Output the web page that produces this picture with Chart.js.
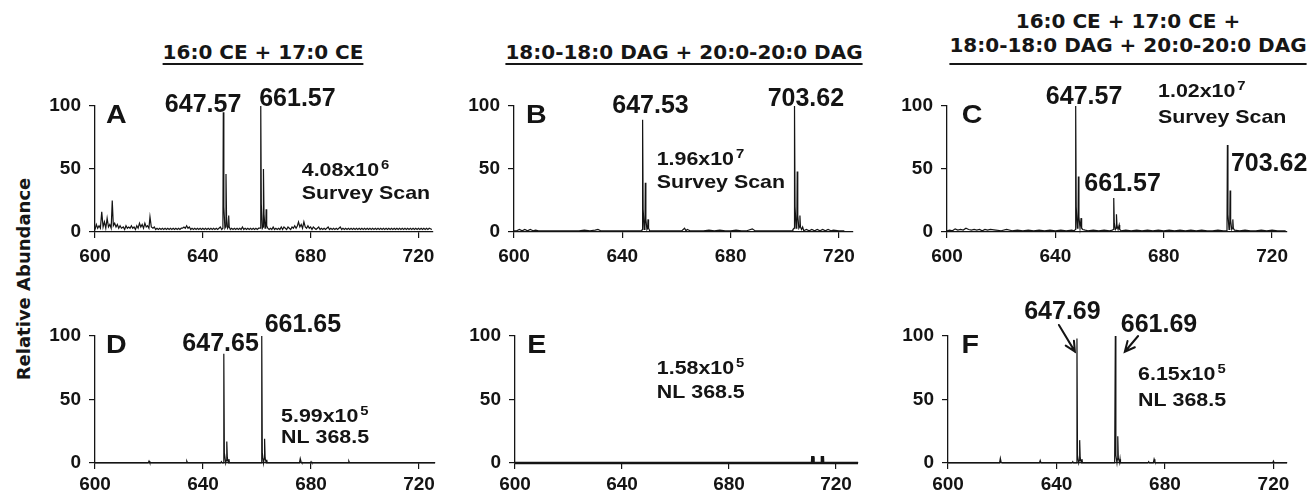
<!DOCTYPE html>
<html>
<head>
<meta charset="utf-8">
<script src="https://cdn.jsdelivr.net/npm/chart.js@4.4.1/dist/chart.umd.min.js"></script>
<style>
  html, body { margin: 0; padding: 0; background: #fff; overflow: hidden; }
  #stage { position: relative; width: 1309px; height: 494px; overflow: hidden; }
  canvas { position: absolute; }
  .title {
    position: absolute; width: 420px; text-align: center; color: #161616;
    font: 700 20px "DejaVu Sans", sans-serif; line-height: 24px; white-space: nowrap;
  }
  .title u { text-decoration-thickness: 1.5px; text-underline-offset: 4px; }
  #ylabel {
    position: absolute; left: 23px; top: 279px; color: #161616; white-space: nowrap;
    font: 700 18px "DejaVu Sans", sans-serif;
    transform: translate(-50%, -50%) rotate(-90deg);
  }
</style>
</head>
<body>
<div id="stage">
  <div class="title" style="left:53px; top:16px;"><br><u>16:0 CE + 17:0 CE</u></div>
  <div class="title" style="left:474px; top:16px;"><br><u>18:0-18:0 DAG + 20:0-20:0 DAG</u></div>
  <div class="title" style="left:918px; top:9px;">16:0 CE + 17:0 CE +<br><u style="text-underline-offset:11px">18:0-18:0 DAG + 20:0-20:0 DAG</u></div>
  <div id="ylabel">Relative Abundance</div>
</div>
<script>
// axis ticks
const xTicks = [600, 640, 680, 720];
const yTicks = [0, 50, 100];

// spectra: [m/z, relative abundance %]
const spectrumA = [
  [600,2],[600.5,6],[601,3],[601.5,5],[602,3],[602.5,16],[603,4],[603.5,8],[604,3],[604.5,11],
  [605,4],[605.5,6],[606,3],[606.4,25],[606.8,5],[607.3,7],[607.8,4],[608.3,6],[608.8,3],[609.3,5],
  [609.8,3],[610.5,4],[611,2],[611.5,5],[612,3],[612.5,4],[613,3],[613.5,5],[614,3],[614.5,4],
  [615,2],[615.5,5],[616,3],[616.5,7],[617,4],[617.5,6],[618,3],[618.5,7],[619,4],[619.5,5],
  [620,3],[620.4,12],[620.9,4],[621.5,3],[622,4],[622.5,2],[623,3],[623.5,2],[624,3],[624.5,2],
  [625,3],[625.5,2],[626,3],[626.5,2],[627,3],[627.5,2],[628,3],[628.5,2],[629,3],[629.5,2],
  [630,3],[630.5,2],[631,3],[631.5,2],[632,3],[632.5,3],[633,4],[633.5,3],[634,5],[634.5,3],
  [635,4],[635.5,2],[636,3],[636.5,2],[637,3],[637.5,2],[638,3],[638.5,2],[639,3],[639.5,2],
  [640,3],[640.5,2],[641,3],[641.5,2],[642,3],[642.5,2],[643,3],[643.5,2],[644,3],[644.5,2],
  [645,3],[645.5,2],[646,3],[646.5,4],[647,2],[647.45,3],[647.6,95],[647.8,20],[648.2,3],[648.45,4],
  [648.6,46],[648.8,12],[649.2,3],[649.45,4],[649.6,13],[649.8,4],[650.2,2],[650.7,3],[651.2,2],[651.7,3],
  [652.2,2],[652.7,3],[653.2,2],[653.7,3],[654.2,2],[654.7,4],[655.2,2],[655.7,3],[656.2,2],[656.7,3],
  [657.2,2],[657.7,3],[658.2,2],[658.7,3],[659.2,2],[659.7,3],[660.2,2],[660.7,3],[661.35,3],[661.5,100],
  [661.7,22],[662.1,3],[662.35,4],[662.5,50],[662.7,14],[663.1,3],[663.35,4],[663.5,18],[663.7,5],[664.1,3],
  [664.6,2],[665.1,3],[665.6,2],[666.1,4],[666.6,2],[667.1,3],[667.6,2],[668.1,3],[668.6,2],[669.1,4],
  [669.6,2],[670.1,4],[670.6,3],[671.1,2],[671.6,4],[672.1,3],[672.6,2],[673.1,4],[673.6,3],[674.1,5],
  [674.6,3],[675.1,5],[675.5,8],[676,4],[676.5,6],[677,3],[677.5,8],[678,4],[678.5,3],[679,5],
  [679.5,3],[680,4],[680.5,2],[681,4],[681.5,3],[682,2],[682.5,3],[683,4],[683.5,2],[684,3],
  [684.5,2],[685,3],[685.5,2],[686,3],[686.5,4],[687,2],[687.5,3],[688,2],[688.5,3],[689,2],
  [689.5,3],[690,2],[690.5,3],[691,4],[691.5,2],[692,3],[692.5,2],[693,3],[693.5,2],[694,3],
  [694.5,2],[695,3],[695.5,2],[696,3],[696.5,2],[697,3],[697.5,2],[698,3],[698.5,2],[699,3],
  [699.5,2],[700,3],[700.5,2],[701,3],[701.5,2],[702,3],[702.5,2],[703,3],[703.5,2],[704,3],
  [704.5,2],[705,3],[705.5,2],[706,3],[706.5,2],[707,3],[707.5,2],[708,3],[708.5,2],[709,3],
  [709.5,2],[710,3],[710.5,2],[711,3],[711.5,2],[712,3],[712.5,2],[713,3],[713.5,2],[714,3],
  [714.5,2],[715,3],[715.5,2],[716,3],[716.5,2],[717,3],[717.5,2],[718,3],[718.5,2],[719,3],
  [719.5,2],[720,3],[720.5,2],[721,3],[721.5,2],[722,3],[722.5,2],[723,3],[723.5,2],[724,3],[725,2]
];

const spectrumB = [
  [600,1],[601,1],[602,2],[603,1],[604,2],[605,1],[606,2],[607,1],[608,1.5],[609,1],
  [610,1],[612,1],[614,1],[616,1],[618,1],[620,1],[622,1],[624,1],[626,1.5],[628,1],
  [630,1.5],[631,2],[632,1],[634,1],[636,1],[638,1],[640,1],[642,1],[644,1],[646,1],
  [647.2,1],[647.35,2],[647.5,89],[647.7,18],[648.1,2],[648.35,3],[648.5,39],[648.7,10],[649.1,2],[649.35,3],
  [649.5,10],[649.7,3],[650.1,1],[652,1],[654,1],[656,1],[658,1],[660,1],[662,1],[663,3],
  [663.5,1],[664,2],[665,1],[666,1],[668,1],[670,1],[672,1.5],[674,1],[676,1.5],[678,1],
  [680,1],[682,1.5],[684,1],[686,1],[688,2.5],[689,1],[690,1],[692,1],[694,1],[696,1],
  [698,1],[700,1],[702,1],[702.8,1],[703,2],[703.45,3],[703.6,100],[703.8,20],[704.2,3],[704.45,4],
  [704.6,48],[704.8,13],[705.2,3],[705.45,4],[705.6,13],[705.8,4],[706.2,2],[706.6,4],[707,1],[708,2],
  [709,1],[710,2],[711,1],[712,2],[713,1],[714,2],[715,1],[716,2],[717,1],[718,1.5],[720,1],[722,1]
];

const spectrumC = [
  [600,1],[601,1.5],[602,1],[603,2.5],[604,1.5],[605,2],[606,1.5],[607,3],[608,2],[609,1.5],
  [610,2],[611,1.5],[612,2],[613,1],[614,2],[615,1.5],[616,2],[618,1.5],[620,1],[622,2],
  [624,1],[626,1.5],[628,1],[630,1.5],[632,1],[634,1.5],[636,1],[638,1.5],[640,1],[642,1.5],
  [644,1],[646,1.5],[647,1],[647.35,2],[647.5,100],[647.7,20],[648.1,3],[648.35,4],[648.5,44],[648.7,12],
  [649.1,3],[649.35,3],[649.5,11],[649.7,3],[650.1,2],[651,1.5],[652,1],[654,1.5],[656,1],[658,1.5],
  [660,1],[661,1.5],[661.4,2],[661.55,27],[661.75,7],[662.15,2],[662.4,3],[662.55,14],[662.75,5],[663.15,2],
  [663.4,2],[663.55,5.5],[663.75,2],[664.2,1],[666,1.5],[668,1],[670,1.5],[672,1],[674,1.5],[676,1],
  [678,1.5],[680,1],[682,1.5],[684,1],[686,1.5],[688,1],[690,1.5],[692,1],[694,1.5],[696,1],
  [698,1],[700,1.5],[702,1],[703,1],[703.35,2],[703.5,69],[703.7,14],[704.1,2],[704.35,3],[704.5,33],
  [704.7,9],[705.1,2],[705.35,3],[705.5,10],[705.7,3],[706.1,1.5],[708,1],[710,1.5],[712,1],[714,1],
  [716,1.5],[718,1],[720,1.5],[722,1],[724,1],[725,1]
];

const spectrumD = [
  [600,0],[619.7,0],[620,1.5],[620.3,0],[633.7,0],[634,1.5],[634.3,0],[646.5,0],[646.8,1],[647.1,0],
  [647.5,0],[647.7,86],[647.9,8],[648.4,0],[648.6,2],[648.8,17],[649,4],[649.4,0],[649.6,3],[649.8,0],
  [661.5,0],[661.75,100],[661.95,8],[662.4,0],[662.6,3],[662.8,19],[663,4],[663.4,0],[663.6,2.5],[663.8,0],
  [675.7,0],[676,3.5],[676.3,1],[676.6,0],[679.7,0],[680,1],[680.3,0],[693.7,0],[694,1.5],[694.3,0],
  [725.9,0]
];

const spectrumE = [
  [600,0],[711,0],[711.1,4.5],[711.5,4.5],[711.6,0],[714.6,0],[714.7,4.5],[715.1,4.5],[715.2,0],[728.2,0]
];

const spectrumF = [
  [600,0],[619,0],[619.3,3.7],[619.6,0.5],[620,0],[633.7,0],[634,2],[634.3,0],[645.7,0],[646,1],
  [646.3,0],[647.3,0],[647.55,98],[647.75,6],[648.2,0],[648.4,2],[648.55,18],[648.75,4],[649.2,0],[649.4,3],
  [649.6,0],[661.45,0],[661.7,100],[661.9,6],[662.3,0],[662.45,3],[662.6,21],[662.8,4],[663.3,0],[663.45,3],
  [663.6,0],[673.7,0],[674,1],[674.3,0],[675.7,0],[676,3],[676.3,1],[676.6,0],[719.7,0],[720,1.5],
  [720.3,0],[725,0]
];

// text placed in data coordinates (m/z, %)
const notesA = [
  {text: 'A', x: 604.1, y: 86.7, style: 'letter', align: 'left'},
  {text: '647.57', x: 640.1, y: 95.5, style: 'peak', align: 'center'},
  {text: '661.57', x: 675.1, y: 100.2, style: 'peak', align: 'center'},
  {text: '4.08x10', sup: '6', x: 676.7, y: 44.4, style: 'note', align: 'left'},
  {text: 'Survey Scan', x: 676.7, y: 26.2, style: 'note', align: 'left'}
];
const notesB = [
  {text: 'B', x: 604.4, y: 86.7, style: 'letter', align: 'left'},
  {text: '647.53', x: 650.4, y: 94.2, style: 'peak', align: 'center'},
  {text: '703.62', x: 707.8, y: 100.2, style: 'peak', align: 'center'},
  {text: '1.96x10', sup: '7', x: 652.7, y: 53.2, style: 'note', align: 'left'},
  {text: 'Survey Scan', x: 652.7, y: 34.7, style: 'note', align: 'left'}
];
const notesC = [
  {text: 'C', x: 605.4, y: 86.3, style: 'letter', align: 'left'},
  {text: '647.57', x: 650.6, y: 101.6, style: 'peak', align: 'center'},
  {text: '1.02x10', sup: '7', x: 677.9, y: 107.4, style: 'note', align: 'left'},
  {text: 'Survey Scan', x: 677.9, y: 86.3, style: 'note', align: 'left'},
  {text: '703.62', x: 718.9, y: 48.7, style: 'peak', align: 'center'},
  {text: '661.57', x: 664.8, y: 32.8, style: 'peak', align: 'center'}
];
const notesD = [
  {text: 'D', x: 604.1, y: 86.8, style: 'letter', align: 'left'},
  {text: '647.65', x: 646.5, y: 88.4, style: 'peak', align: 'center'},
  {text: '661.65', x: 677.0, y: 103.4, style: 'peak', align: 'center'},
  {text: '5.99x10', sup: '5', x: 668.9, y: 32.5, style: 'note', align: 'left'},
  {text: 'NL 368.5', x: 668.9, y: 16, style: 'note', align: 'left'}
];
const notesE = [
  {text: 'E', x: 604.6, y: 86.4, style: 'letter', align: 'left'},
  {text: '1.58x10', sup: '5', x: 653.0, y: 70.1, style: 'note', align: 'left'},
  {text: 'NL 368.5', x: 653.0, y: 51, style: 'note', align: 'left'}
];
const notesF = [
  {text: 'F', x: 605.0, y: 86.4, style: 'letter', align: 'left'},
  {text: '647.69', x: 642.2, y: 113.4, style: 'peak', align: 'center'},
  {text: '661.69', x: 677.8, y: 103.4, style: 'peak', align: 'center'},
  {text: '6.15x10', sup: '5', x: 670.1, y: 65.4, style: 'note', align: 'left'},
  {text: 'NL 368.5', x: 670.1, y: 44.9, style: 'note', align: 'left'}
];
const arrowsF = [
  {from: [640.9, 108.7], to: [646.8, 87.7]},
  {from: [670.1, 100], to: [665.2, 87.6]}
];

const ink = '#141414';
const textStyles = {
  peak:   {font: '700 25px "Liberation Sans", Arial, sans-serif', stretch: 1.0},
  letter: {font: '700 26px "Liberation Sans", Arial, sans-serif', stretch: 1.1},
  note:   {font: '700 18.6px "Liberation Sans", Arial, sans-serif', stretch: 1.15},
  sup:    {font: '700 13.5px "Liberation Sans", Arial, sans-serif', stretch: 1.1}
};
const tickFont = {family: '"Liberation Sans", Arial, sans-serif', size: 19, weight: 'bold'};

// chart area boxes on the page: [left, top, right, bottom]
const panels = [
  {data: spectrumA, notes: notesA, box: [95, 106, 433, 232], xMax: 725.4, tickPad: 7, lineWidth: 1.2},
  {data: spectrumB, notes: notesB, box: [514, 106, 853, 232], xMax: 725.2, tickPad: 7, lineWidth: 1.2},
  {data: spectrumC, notes: notesC, box: [947, 106, 1287, 232], xMax: 725.5, tickPad: 7, lineWidth: 1.2},
  {data: spectrumD, notes: notesD, box: [95, 336, 435, 463], xMax: 725.9, tickPad: 4, lineWidth: 1.2},
  {data: spectrumE, notes: notesE, box: [515, 336, 858, 463], xMax: 728.2, tickPad: 4, lineWidth: 2.4},
  {data: spectrumF, notes: notesF, arrows: arrowsF, box: [948, 336, 1287, 463], xMax: 725, tickPad: 4, lineWidth: 1.2}
];

const AXIS_W = 65, AXIS_H = 55, PAD_TOP = 45, PAD_RIGHT = 25;

function drawText(ctx, item, px, py) {
  const st = textStyles[item.style];
  ctx.font = st.font;
  const w = ctx.measureText(item.text).width * st.stretch;
  let supW = 0;
  if (item.sup) {
    ctx.font = textStyles.sup.font;
    supW = ctx.measureText(item.sup).width * textStyles.sup.stretch + 2;
    ctx.font = st.font;
  }
  let left = px;
  if (item.align === 'center') left = px - (w + supW) / 2;
  if (item.align === 'right') left = px - w - supW;
  ctx.save();
  ctx.translate(left, py);
  ctx.scale(st.stretch, 1);
  ctx.fillText(item.text, 0, 0);
  ctx.restore();
  if (item.sup) {
    ctx.save();
    ctx.font = textStyles.sup.font;
    ctx.translate(left + w + 2, py - 7);
    ctx.scale(textStyles.sup.stretch, 1);
    ctx.fillText(item.sup, 0, 0);
    ctx.restore();
  }
}

const panelText = {
  id: 'panelText',
  afterDatasetsDraw(chart, args, opts) {
    const {ctx} = chart;
    const xs = chart.scales.x, ys = chart.scales.y;
    ctx.save();
    ctx.fillStyle = ink;
    ctx.strokeStyle = ink;
    ctx.textBaseline = 'alphabetic';
    ctx.textAlign = 'left';
    (opts.items || []).forEach(item => {
      drawText(ctx, item, xs.getPixelForValue(item.x), ys.getPixelForValue(item.y));
    });
    (opts.arrows || []).forEach(a => {
      const x1 = xs.getPixelForValue(a.from[0]), y1 = ys.getPixelForValue(a.from[1]);
      const x2 = xs.getPixelForValue(a.to[0]), y2 = ys.getPixelForValue(a.to[1]);
      const ang = Math.atan2(y2 - y1, x2 - x1);
      ctx.lineWidth = 2;
      ctx.lineCap = 'round';
      ctx.beginPath();
      ctx.moveTo(x1, y1);
      ctx.lineTo(x2, y2);
      ctx.moveTo(x2 - 11 * Math.cos(ang - 0.45), y2 - 11 * Math.sin(ang - 0.45));
      ctx.lineTo(x2, y2);
      ctx.lineTo(x2 - 11 * Math.cos(ang + 0.45), y2 - 11 * Math.sin(ang + 0.45));
      ctx.stroke();
    });
    ctx.restore();
  }
};

const stage = document.getElementById('stage');

panels.forEach(p => {
  const [l, t, r, b] = p.box;
  const canvas = document.createElement('canvas');
  const w = (r - l) + AXIS_W + PAD_RIGHT;
  const h = (b - t) + PAD_TOP + AXIS_H;
  canvas.width = w;
  canvas.height = h;
  canvas.style.width = w + 'px';
  canvas.style.height = h + 'px';
  canvas.style.left = (l - AXIS_W) + 'px';
  canvas.style.top = (t - PAD_TOP) + 'px';
  stage.appendChild(canvas);

  const axisGrid = {drawOnChartArea: false, drawTicks: true, tickLength: 6, color: ink, lineWidth: 1.2};
  const axisBorder = {display: true, color: ink, width: 1.3};

  new Chart(canvas, {
    type: 'scatter',
    data: {
      datasets: [{
        data: p.data.map(([x, y]) => ({x, y})),
        showLine: true,
        borderColor: ink,
        borderWidth: p.lineWidth,
        pointRadius: 0,
        tension: 0,
        clip: false
      }]
    },
    options: {
      responsive: false,
      animation: false,
      events: [],
      layout: {padding: {top: PAD_TOP, right: PAD_RIGHT, left: 0, bottom: 0}},
      plugins: {
        legend: {display: false},
        tooltip: {enabled: false},
        panelText: {items: p.notes, arrows: p.arrows || []}
      },
      scales: {
        x: {
          type: 'linear',
          min: 600,
          max: p.xMax,
          afterBuildTicks: s => { s.ticks = xTicks.map(v => ({value: v})); },
          afterFit: s => { s.height = AXIS_H; },
          grid: axisGrid,
          border: axisBorder,
          ticks: {font: tickFont, color: ink, padding: p.tickPad, autoSkip: false, maxRotation: 0}
        },
        y: {
          type: 'linear',
          min: 0,
          max: 100,
          afterBuildTicks: s => { s.ticks = yTicks.map(v => ({value: v})); },
          afterFit: s => { s.width = AXIS_W; },
          grid: axisGrid,
          border: axisBorder,
          ticks: {font: tickFont, color: ink, padding: 8}
        }
      }
    },
    plugins: [panelText]
  });
});
</script>
</body>
</html>
